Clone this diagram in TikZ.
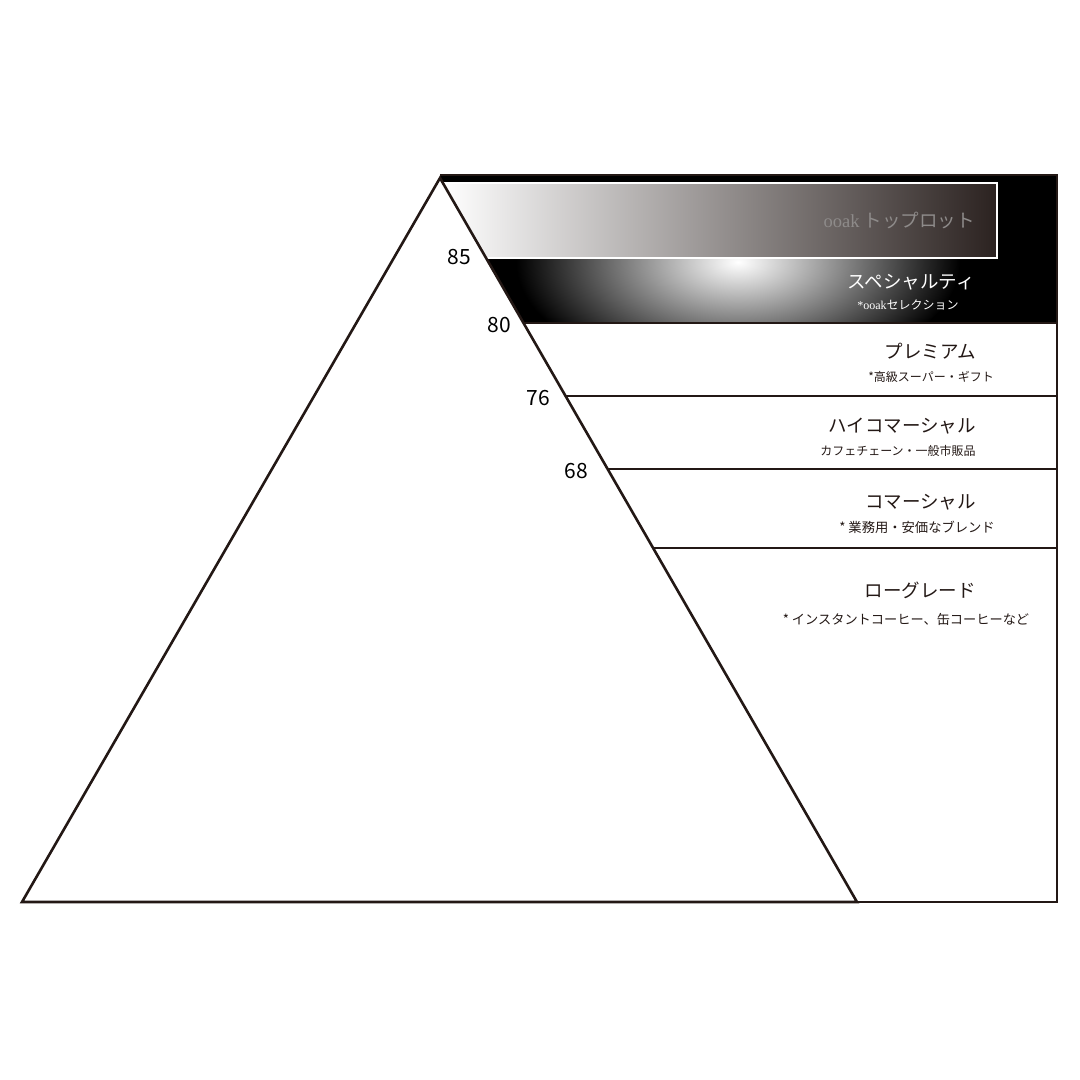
\documentclass[tikz,border=0pt]{standalone}
\usepackage{fontspec}
\setmainfont{Noto Sans CJK JP}
\newfontfamily\ooakfont{Liberation Serif}
\definecolor{ink}{HTML}{231815}
\definecolor{lotdark}{HTML}{2B2220}
\definecolor{lotgray}{HTML}{8E8B8A}
\begin{document}
\begin{tikzpicture}[x=1pt,y=-1pt,line width=2.6pt,
  rank/.style={font=\fontsize{18.5}{20}\selectfont,text=ink,inner sep=0pt},
  note/.style={font=\fontsize{12}{14}\selectfont,text=ink,inner sep=0pt},
  score/.style={font=\fontsize{21}{24}\selectfont,text=black,inner sep=0pt}]
\useasboundingbox (0,0) rectangle (1080,1080);
% corners of the pyramid and the grade box
\coordinate (apex) at (440,178);
\coordinate (baseL) at (22,902);
\coordinate (baseR) at (857,902);
\coordinate (boxTL) at (440,175);
\coordinate (boxTR) at (1057,175);
\coordinate (boxBR) at (1057,902);
\coordinate (boxBL) at (440,902);
% black top band
\fill[black] (boxTL) -- (boxTR) -- (1057,323) -- (523.5,323) -- (apex) -- cycle;
\begin{scope}
\clip (486.1,258) -- (1057,258) -- (1057,323) -- (523.5,323) -- cycle;
\shade[inner color=white,outer color=black] (738,262) ellipse [x radius=222,y radius=118];
\end{scope}
\shade[left color=white,right color=lotdark] (442.9,183) -- (997,183) -- (997,258) -- (486.1,258) -- cycle;
\draw[white,line width=2pt] (442.9,183) -- (997,183) -- (997,258) -- (486.1,258);
% outlines
\draw[ink,line join=miter] (boxBL) -- (boxBR) -- (boxTR) -- (boxTL);
\draw[ink,line join=miter] (apex) -- (baseL) -- (baseR) -- cycle;
\draw[ink] (523.5,323) -- (1057,323);
\draw[ink] (565.6,396) -- (1057,396);
\draw[ink] (607.6,469) -- (1057,469);
\draw[ink] (653.1,548) -- (1057,548);
% scores
\node[score] (s85) at (459,257) {85};
\node[score] (s80) at (499,325) {80};
\node[score] (s76) at (538,398) {76};
\node[score] (s68) at (576,471) {68};
% grades
\node[rank,text=lotgray,anchor=east] (toplot) at (976,220) {{\ooakfont ooak} トップロット};
\node[rank,text=white,anchor=east] (spec) at (976,282) {スペシャルティ};
\node[note,text=white] (specnote) at (908,305) {{\ooakfont *ooak}セレクション};
\node[rank,anchor=east] (prem) at (977,351) {プレミアム};
\node[note] (premnote) at (931,377) {*高級スーパー・ギフト};
\node[rank,anchor=east] (hicom) at (977,426) {ハイコマーシャル};
\node[note] (hicomnote) at (898,451) {カフェチェーン・一般市販品};
\node[rank,anchor=east] (com) at (977,502) {コマーシャル};
\node[note,font=\fontsize{13.3}{15}\selectfont] (comnote) at (917,527) {* 業務用・安価なブレンド};
\node[rank,anchor=east] (low) at (977,590) {ローグレード};
\node[note,font=\fontsize{13.2}{15}\selectfont] (lownote) at (906,619) {* インスタントコーヒー、缶コーヒーなど};
\end{tikzpicture}
\end{document}
